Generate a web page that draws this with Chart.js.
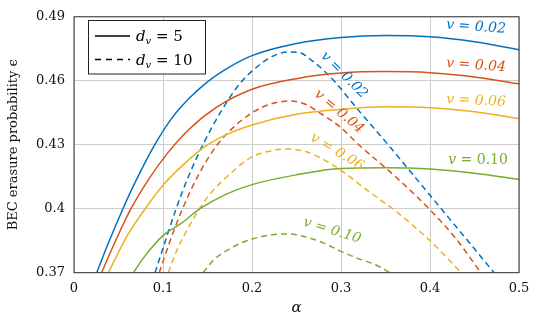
<!DOCTYPE html>
<html><head><meta charset="utf-8">
<script src="https://cdn.jsdelivr.net/npm/chart.js@4/dist/chart.umd.min.js"></script>
<style>html,body{margin:0;padding:0;background:#fff;}</style>
</head><body>
<canvas id="c" width="538" height="321"></canvas>
<script>
// ---------- data ----------
const xTicks = [0, 0.1, 0.2, 0.3, 0.4, 0.5];
const xTickLabels = ['0', '0.1', '0.2', '0.3', '0.4', '0.5'];
const yTicks = [0.37, 0.40, 0.43, 0.46, 0.49];
const yTickLabels = ['0.37', '0.4', '0.43', '0.46', '0.49'];

// d_v = 5 (solid)
const alphaV02d5 = [0.0255,0.04,0.055,0.07,0.09,0.11,0.13,0.15,0.175,0.2,0.25,0.3,0.35,0.4,0.45,0.5];
const epsV02d5   = [0.37,0.3853,0.40,0.4135,0.4295,0.4425,0.452,0.4595,0.4665,0.4718,0.4775,0.4803,0.4812,0.4806,0.4783,0.4746];
const alphaV04d5 = [0.031,0.047,0.064,0.085,0.104,0.13,0.16,0.2,0.25,0.3,0.35,0.4,0.45,0.5];
const epsV04d5   = [0.37,0.3852,0.40,0.4145,0.4255,0.4375,0.4475,0.456,0.461,0.4636,0.4643,0.4638,0.4618,0.4586];
const alphaV06d5 = [0.0386,0.06,0.08,0.1,0.12,0.145,0.17,0.2,0.25,0.3,0.35,0.4,0.45,0.5];
const epsV06d5   = [0.37,0.3875,0.40,0.411,0.4195,0.4285,0.4345,0.4393,0.4443,0.4466,0.4478,0.4474,0.4455,0.4423];
const alphaV10d5 = [0.0667,0.08,0.1,0.12,0.1416,0.17,0.2,0.25,0.3,0.35,0.4,0.45,0.5];
const epsV10d5   = [0.37,0.378,0.3874,0.393,0.40,0.4066,0.4113,0.4159,0.4189,0.4192,0.4186,0.4166,0.4138];

// d_v = 10 (dashed)
const alphaV02d10 = [0.091,0.1,0.1135,0.128,0.146,0.165,0.186,0.21,0.225,0.24,0.255,0.265,0.276,0.291,0.32,0.353,0.38,0.409,0.44,0.472];
const epsV02d10   = [0.37,0.3815,0.3985,0.4145,0.431,0.4455,0.4585,0.468,0.4718,0.4735,0.473,0.4702,0.4666,0.4605,0.446,0.43,0.4164,0.4018,0.3862,0.37];
const alphaV04d10 = [0.0958,0.108,0.122,0.14,0.161,0.18,0.2,0.22,0.243,0.26,0.276,0.3,0.32,0.36,0.4,0.43,0.457];
const epsV04d10   = [0.37,0.385,0.40,0.416,0.43,0.4385,0.445,0.449,0.4505,0.449,0.445,0.438,0.43,0.4155,0.3995,0.3855,0.37];
const alphaV06d10 = [0.106,0.115,0.127,0.141,0.155,0.17,0.2,0.22,0.24,0.26,0.28,0.3,0.33,0.3625,0.4,0.435];
const epsV06d10   = [0.37,0.38,0.39,0.40,0.408,0.4143,0.4243,0.427,0.428,0.4268,0.4232,0.418,0.4085,0.3985,0.385,0.37];
const alphaV10d10 = [0.145,0.157,0.172,0.19,0.2165,0.24,0.26,0.28,0.3,0.32,0.34,0.355];
const epsV10d10   = [0.37,0.376,0.3805,0.3843,0.3874,0.3882,0.3868,0.384,0.38,0.3765,0.3735,0.37];

const seriesNames = ['v = 0.02', 'v = 0.04', 'v = 0.06', 'v = 0.10'];

// ---------- styling ----------
const COLORS = ['#0072BD', '#D95319', '#EDB120', '#77AC30'];
const SERIF = '"DejaVu Serif", serif';
const pts = (a, e) => a.map((v, i) => ({x: v, y: e[i]}));

const solid = [[alphaV02d5, epsV02d5], [alphaV04d5, epsV04d5], [alphaV06d5, epsV06d5], [alphaV10d5, epsV10d5]];
const dashed = [[alphaV02d10, epsV02d10], [alphaV04d10, epsV04d10], [alphaV06d10, epsV06d10], [alphaV10d10, epsV10d10]];

const datasets = [];
solid.forEach((s, i) => datasets.push({
  label: seriesNames[i] + ' (d_v = 5)', data: pts(s[0], s[1]),
  borderColor: COLORS[i], borderWidth: 1.5, pointRadius: 0, fill: false,
  cubicInterpolationMode: 'monotone'
}));
dashed.forEach((s, i) => datasets.push({
  label: seriesNames[i] + ' (d_v = 10)', data: pts(s[0], s[1]),
  borderColor: COLORS[i], borderWidth: 1.5, borderDash: [6, 4], pointRadius: 0, fill: false,
  cubicInterpolationMode: 'monotone'
}));

// curve label placement (data coords) and rotation
const curveLabels = [
  {s: 0, a: 0.4517, e: 0.4852, rot: 4, c: 0},
  {s: 1, a: 0.4517, e: 0.4672, rot: 4, c: 1},
  {s: 2, a: 0.4517, e: 0.4506, rot: 3, c: 2},
  {s: 3, a: 0.4540, e: 0.4229, rot: 0, c: 3, upright: true},
  {s: 0, a: 0.3034, e: 0.4626, rot: 45, c: 0},
  {s: 1, a: 0.2978, e: 0.4455, rot: 40, c: 1},
  {s: 2, a: 0.2955, e: 0.4266, rot: 31, c: 2},
  {s: 3, a: 0.2899, e: 0.3897, rot: 17, c: 3}
];

function drawSegments(ctx, segs, x, y, align) {
  let total = 0;
  segs.forEach(s => { ctx.font = s.f; s.w = ctx.measureText(s.t).width; total += s.w; });
  let cx = align === 'center' ? x - total / 2 : x;
  segs.forEach(s => { ctx.font = s.f; ctx.fillText(s.t, cx, y + (s.dy || 0)); cx += s.w; });
}

const overlay = {
  id: 'overlay',
  afterDatasetsDraw(chart) {
    const {ctx, chartArea: ca, scales: {x, y}} = chart;
    ctx.save();
    ctx.strokeStyle = '#333'; ctx.lineWidth = 1;
    ctx.strokeRect(ca.left, ca.top, ca.right - ca.left, ca.bottom - ca.top);

    ctx.textBaseline = 'middle';
    curveLabels.forEach(l => {
      ctx.save();
      ctx.translate(x.getPixelForValue(l.a), y.getPixelForValue(l.e));
      ctx.rotate(l.rot * Math.PI / 180);
      ctx.fillStyle = COLORS[l.c];
      const txt = seriesNames[l.s];
      const segs = l.upright
        ? [{t: txt.slice(0, 1), f: 'italic 14px ' + SERIF}, {t: txt.slice(1), f: '14px ' + SERIF}]
        : [{t: txt, f: 'italic 14px ' + SERIF}];
      drawSegments(ctx, segs, 0, 0, 'center');
      ctx.restore();
    });

    // legend box
    const bx = 88.5, by = 20.5, bw = 117, bh = 53.5;
    ctx.fillStyle = '#fff';
    ctx.fillRect(bx, by, bw, bh);
    ctx.strokeStyle = '#222'; ctx.lineWidth = 1;
    ctx.strokeRect(bx, by, bw, bh);
    ctx.strokeStyle = '#000'; ctx.lineWidth = 1.5;
    ctx.beginPath(); ctx.moveTo(95, 36); ctx.lineTo(130, 36); ctx.stroke();
    ctx.setLineDash([6, 5]);
    ctx.beginPath(); ctx.moveTo(95, 59.5); ctx.lineTo(130, 59.5); ctx.stroke();
    ctx.setLineDash([]);
    ctx.fillStyle = '#000';
    ctx.textBaseline = 'alphabetic';
    const legTexts = [' = 5', ' = 10'];
    [41, 64.5].forEach((yy, i) => {
      drawSegments(ctx, [
        {t: 'd', f: 'italic 15px ' + SERIF},
        {t: 'v', f: 'italic 10px ' + SERIF, dy: 3},
        {t: legTexts[i], f: '15px ' + SERIF}
      ], 136, yy, 'left');
    });
    ctx.restore();
  }
};

new Chart(document.getElementById('c'), {
  type: 'line',
  data: {datasets},
  options: {
    responsive: false, animation: false, devicePixelRatio: 1,
    layout: {padding: {top: 12.7, right: 19, left: 0, bottom: 0}},
    plugins: {legend: {display: false}, tooltip: {enabled: false}},
    scales: {
      x: {
        type: 'linear', min: 0, max: 0.5,
        afterBuildTicks: s => { s.ticks = xTicks.map(v => ({value: v})); },
        afterFit: s => { s.height = 48.3; },
        ticks: {callback: (v, i) => xTickLabels[i], color: '#111', padding: 8, maxRotation: 0,
                font: {family: SERIF, size: 13}},
        grid: {color: '#cccccc', lineWidth: 1, drawTicks: false},
        border: {display: false},
        title: {display: true, text: 'α', color: '#111', padding: {top: 0, bottom: 4},
                font: {family: SERIF, size: 15, style: 'italic'}}
      },
      y: {
        type: 'linear', min: 0.37, max: 0.49,
        afterBuildTicks: s => { s.ticks = yTicks.map(v => ({value: v})); },
        afterFit: s => { s.width = 74; },
        ticks: {callback: (v, i) => yTickLabels[i], color: '#111', padding: 9,
                font: {family: SERIF, size: 13}},
        grid: {color: '#cccccc', lineWidth: 1, drawTicks: false},
        border: {display: false},
        title: {display: true, text: 'BEC erasure probability ϵ', color: '#111', padding: {top: 6, bottom: 0},
                font: {family: SERIF, size: 13}}
      }
    }
  },
  plugins: [overlay]
});
</script>
</body></html>
